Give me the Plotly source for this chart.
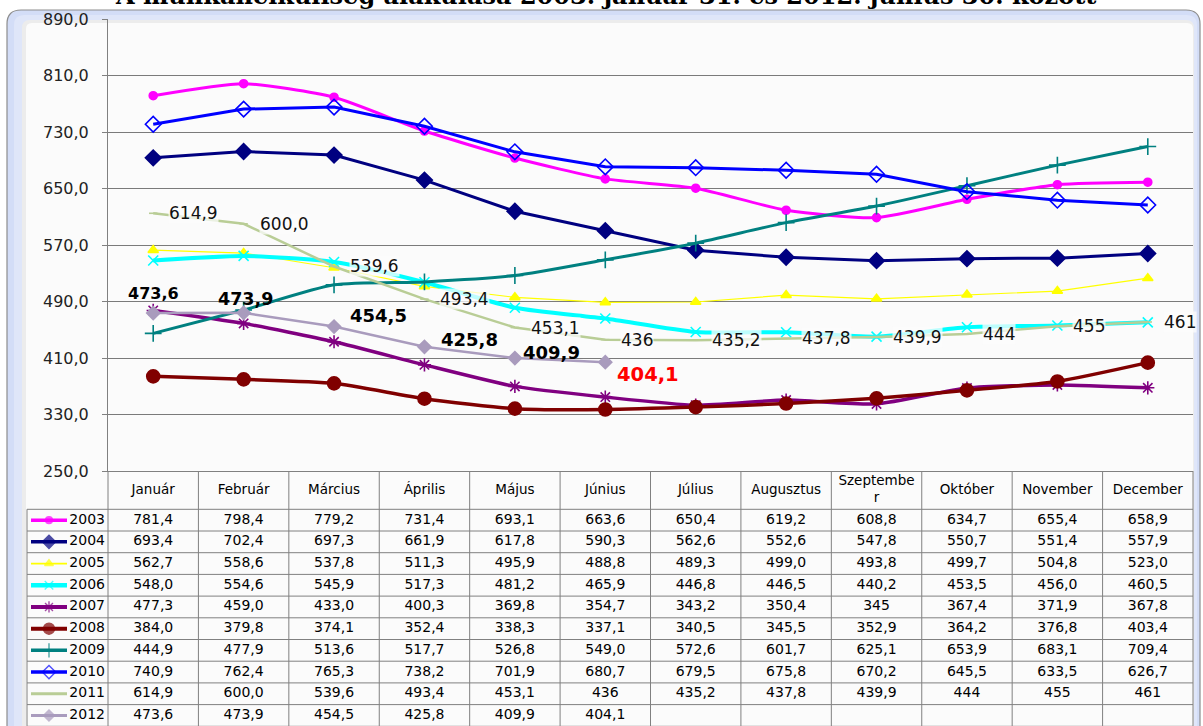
import plotly.graph_objects as go

# ---------------- data ----------------
months = ['Január', 'Február', 'Március', 'Április', 'Május', 'Június',
          'Július', 'Augusztus', 'Szeptember', 'Október', 'November', 'December']
header_labels = ['Január', 'Február', 'Március', 'Április', 'Május', 'Június',
                 'Július', 'Augusztus', 'Szeptembe<br>r', 'Október', 'November', 'December']
years = ['2003', '2004', '2005', '2006', '2007', '2008', '2009', '2010', '2011', '2012']

v2003 = [781.4, 798.4, 779.2, 731.4, 693.1, 663.6, 650.4, 619.2, 608.8, 634.7, 655.4, 658.9]
v2004 = [693.4, 702.4, 697.3, 661.9, 617.8, 590.3, 562.6, 552.6, 547.8, 550.7, 551.4, 557.9]
v2005 = [562.7, 558.6, 537.8, 511.3, 495.9, 488.8, 489.3, 499.0, 493.8, 499.7, 504.8, 523.0]
v2006 = [548.0, 554.6, 545.9, 517.3, 481.2, 465.9, 446.8, 446.5, 440.2, 453.5, 456.0, 460.5]
v2007 = [477.3, 459.0, 433.0, 400.3, 369.8, 354.7, 343.2, 350.4, 345, 367.4, 371.9, 367.8]
v2008 = [384.0, 379.8, 374.1, 352.4, 338.3, 337.1, 340.5, 345.5, 352.9, 364.2, 376.8, 403.4]
v2009 = [444.9, 477.9, 513.6, 517.7, 526.8, 549.0, 572.6, 601.7, 625.1, 653.9, 683.1, 709.4]
v2010 = [740.9, 762.4, 765.3, 738.2, 701.9, 680.7, 679.5, 675.8, 670.2, 645.5, 633.5, 626.7]
v2011 = [614.9, 600.0, 539.6, 493.4, 453.1, 436, 435.2, 437.8, 439.9, 444, 455, 461]
v2012 = [473.6, 473.9, 454.5, 425.8, 409.9, 404.1]

y_ticks = [250, 330, 410, 490, 570, 650, 730, 810, 890]

series = [v2003, v2004, v2005, v2006, v2007, v2008, v2009, v2010, v2011, v2012]

title_text = 'A munkanélküliség alakulása 2003. január 31. és 2012. június 30. között'

# ---------------- styles ----------------
W, H = 1203, 726
FONT = 'DejaVu Sans'
styles = {
    '2003': dict(color='#FF00FF', width=3, symbol='circle', size=8, shape='spline'),
    '2004': dict(color='#000080', width=3, symbol='diamond', size=12, shape='linear'),
    '2005': dict(color='#FFFF00', width=1.2, symbol='triangle-up', size=9, shape='linear'),
    '2006': dict(color='#00FFFF', width=4, symbol='x-thin-open', size=10, shape='spline'),
    '2007': dict(color='#800080', width=3.5, symbol='asterisk-open', size=11, shape='spline'),
    '2008': dict(color='#800000', width=3.5, symbol='circle', size=13, shape='spline'),
    '2009': dict(color='#008080', width=3, symbol='cross-thin-open', size=12, shape='spline'),
    '2010': dict(color='#0000FF', width=3, symbol='diamond-open', size=12, shape='linear'),
    '2011': dict(color='#B9CD96', width=2.5, symbol='line-ew-open', size=6, shape='linear'),
    '2012': dict(color='#A99BBD', width=2.5, symbol='diamond', size=10, shape='linear'),
}


def px_x(p):
    return p / W


def px_y(p):
    return 1 - p / H


def fmt(v):
    return str(v) if isinstance(v, int) else f'{v:.1f}'.replace('.', ',')


fig = go.Figure()

# ---------------- main lines ----------------
xs = list(range(len(months)))
for yr, vals in zip(years, series):
    st = styles[yr]
    fig.add_trace(go.Scatter(
        x=xs[:len(vals)], y=vals, mode='lines+markers', name=yr,
        line=dict(color=st['color'], width=st['width'], shape=st['shape'], smoothing=0.6),
        marker=dict(symbol=st['symbol'], size=st['size'], color=st['color'],
                    line=dict(color=st['color'], width=1.6)),
        xaxis='x', yaxis='y', showlegend=False, cliponaxis=False,
    ))

# ---------------- data labels ----------------
annotations = []
for i, v in enumerate(v2011):
    annotations.append(dict(
        x=i, y=v, xref='x', yref='y', text=fmt(v), showarrow=False,
        xanchor='left', yanchor='middle', xshift=15, yshift=0,
        font=dict(family=FONT, size=17, color='#111111'),
        bgcolor='rgba(252,252,252,0.75)', borderpad=0,
    ))

lab12_dx = [0, 2, 44, 45, 37, 43]
lab12_dy = [20, 14, 11, 7, 6, -12]
lab12_size = [16, 17.5, 18, 18, 18, 19.5]
lab12_color = ['#000000'] * 5 + ['#FF0000']
for i, v in enumerate(v2012):
    annotations.append(dict(
        x=i, y=v, xref='x', yref='y', text='<b>' + fmt(v) + '</b>', showarrow=False,
        xanchor='center', yanchor='middle', xshift=lab12_dx[i], yshift=lab12_dy[i],
        font=dict(family=FONT, size=lab12_size[i], color=lab12_color[i]),
    ))

# ---------------- table (x2 / y2 axes) ----------------
col_w = (1193 - 108) / 12.0
x2_left = -0.5 - (108 - 26) / col_w
x2_right = 11.5 + (1195 - 1193) / col_w
leg_left = -0.5 - (108 - 27) / col_w
HDR = 38.3
ROW = 21.7
TBL_H = H - 471

shapes = []
line_c = '#808080'
for i in range(len(years) + 1):
    yv = HDR + ROW * i
    shapes.append(dict(type='line', xref='x2', yref='y2', x0=leg_left, x1=11.5, y0=yv, y1=yv,
                       line=dict(color=line_c, width=1), layer='above'))
for k in range(13):
    xv = -0.5 + k
    shapes.append(dict(type='line', xref='x2', yref='y2', x0=xv, x1=xv, y0=0, y1=TBL_H,
                       line=dict(color=line_c, width=1), layer='above'))
shapes.append(dict(type='line', xref='x2', yref='y2', x0=leg_left, x1=leg_left, y0=HDR, y1=TBL_H,
                   line=dict(color=line_c, width=1), layer='above'))

fig.add_trace(go.Scatter(
    x=xs, y=[HDR / 2] * 12, mode='text', text=header_labels,
    textfont=dict(family=FONT, size=13.5, color='#000000'),
    xaxis='x2', yaxis='y2', showlegend=False, hoverinfo='skip', cliponaxis=False,
))

cx, cy, ct = [], [], []
for r, vals in enumerate(series):
    for c, v in enumerate(vals):
        cx.append(c)
        cy.append(HDR + ROW * r + ROW / 2)
        ct.append(fmt(v))
fig.add_trace(go.Scatter(
    x=cx, y=cy, mode='text', text=ct,
    textfont=dict(family=FONT, size=14, color='#000000'),
    xaxis='x2', yaxis='y2', showlegend=False, hoverinfo='skip', cliponaxis=False,
))

k0 = -0.5 - (108 - 31) / col_w
k1 = -0.5 - (108 - 67) / col_w
km = (k0 + k1) / 2
for r, yr in enumerate(years):
    st = styles[yr]
    yc = HDR + ROW * r + ROW / 2
    fig.add_trace(go.Scatter(
        x=[k0, km, k1], y=[yc, yc, yc], mode='lines+markers',
        line=dict(color=st['color'], width=max(st['width'], 1.2) + 0.5),
        marker=dict(symbol=st['symbol'], size=[0, st['size'] * 0.85, 0], color=st['color'],
                    line=dict(color=st['color'], width=1.4)),
        xaxis='x2', yaxis='y2', showlegend=False, hoverinfo='skip', cliponaxis=False,
    ))
fig.add_trace(go.Scatter(
    x=[-0.5 - (108 - 105) / col_w] * len(years),
    y=[HDR + ROW * r + ROW / 2 for r in range(len(years))],
    mode='text', text=years, textposition='middle left',
    textfont=dict(family=FONT, size=14, color='#000000'),
    xaxis='x2', yaxis='y2', showlegend=False, hoverinfo='skip', cliponaxis=False,
))

# ---------------- frame ----------------
def rrect(x0, y0, x1, y1, r):
    def P(a, b):
        return f'{px_x(a):.5f},{px_y(b):.5f}'
    return (f'M {P(x0 + r, y0)} L {P(x1 - r, y0)} Q {P(x1, y0)} {P(x1, y0 + r)} '
            f'L {P(x1, y1 - r)} Q {P(x1, y1)} {P(x1 - r, y1)} L {P(x0 + r, y1)} '
            f'Q {P(x0, y1)} {P(x0, y1 - r)} L {P(x0, y0 + r)} Q {P(x0, y0)} {P(x0 + r, y0)} Z')

frame = [
    dict(type='path', xref='paper', yref='paper', path=rrect(7, 10, 1200, 760, 14),
         fillcolor='#d3ddf7', line=dict(color='#8e8e8e', width=1.2), layer='below'),
    dict(type='path', xref='paper', yref='paper', path=rrect(14, 15, 1197, 755, 10),
         fillcolor='#dfe6f9', line=dict(width=0), layer='below'),
    dict(type='path', xref='paper', yref='paper', path=rrect(22, 20, 1194, 750, 8),
         fillcolor='#ececec', line=dict(width=0), layer='below'),
    dict(type='path', xref='paper', yref='paper', path=rrect(26, 23, 1193, 748, 6),
         fillcolor='#fbfbfb', line=dict(width=0), layer='below'),
]

annotations.append(dict(
    x=605 / W, y=1, xref='paper', yref='paper', text='<b>' + title_text + '</b>',
    showarrow=False, xanchor='center', yanchor='bottom', yshift=-12,
    font=dict(family='DejaVu Serif', size=24, color='#000000'),
))

fig.update_layout(
    width=W, height=H, autosize=False,
    margin=dict(l=0, r=0, t=0, b=0, pad=0, autoexpand=False),
    paper_bgcolor='#ffffff', plot_bgcolor='rgba(0,0,0,0)',
    separators=',.',
    showlegend=False,
    shapes=frame + shapes,
    annotations=annotations,
    xaxis=dict(domain=[px_x(108), px_x(1193)], range=[-0.5, 11.5], automargin=False,
               showticklabels=False, ticks='', showgrid=False, zeroline=False,
               showline=True, linecolor='#808080', linewidth=1),
    yaxis=dict(domain=[px_y(471), px_y(19)], range=[250, 890], tickvals=y_ticks, automargin=False,
               tickformat='.1f', ticks='outside', ticklen=5, tickcolor='#808080',
               ticklabelstandoff=10,
               tickfont=dict(family=FONT, size=16, color='#222222'),
               showgrid=True, gridcolor='#7a7a7a', gridwidth=1, zeroline=False,
               showline=True, linecolor='#808080', linewidth=1),
    xaxis2=dict(domain=[px_x(26), px_x(1195)], range=[x2_left, x2_right], anchor='y2',
                visible=False, fixedrange=True, automargin=False),
    yaxis2=dict(domain=[0, px_y(471)], range=[TBL_H, 0], anchor='x2',
                visible=False, fixedrange=True, automargin=False),
)

fig.write_html('out.html', config={'displayModeBar': False},
               post_script="document.body.style.margin='0';document.body.style.overflow='hidden';")
